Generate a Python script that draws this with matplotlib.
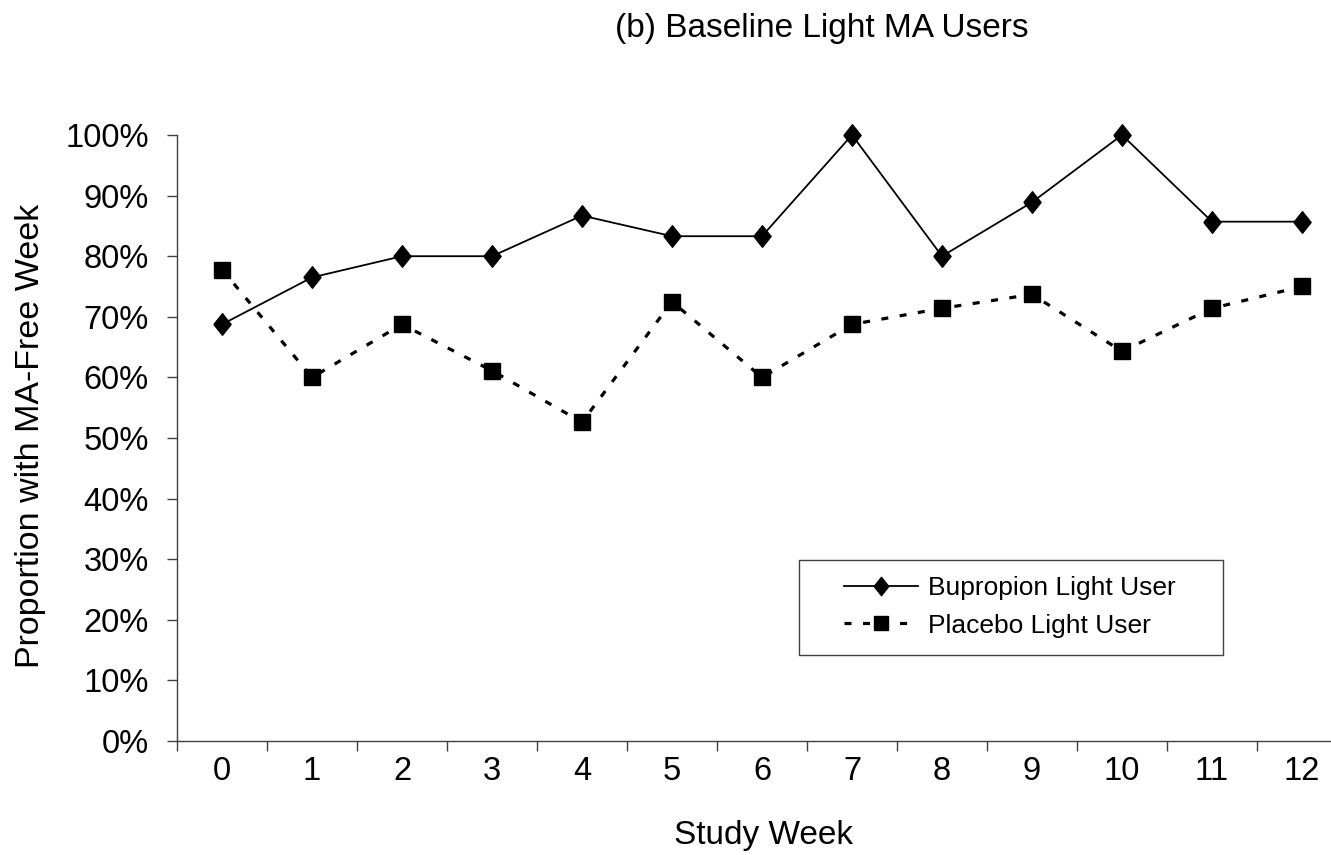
import matplotlib
matplotlib.use('Agg')
import matplotlib.pyplot as plt
from matplotlib.patches import Rectangle
from matplotlib.ticker import FuncFormatter, FixedLocator

plt.rcParams['font.family'] = ['Liberation Sans', 'DejaVu Sans']

# data (proportion with MA-free week, %)
weeks = ['0', '1', '2', '3', '4', '5', '6', '7', '8', '9', '10', '11', '12']
bupropion = [68.75, 76.5, 80.0, 80.0, 86.7, 83.3, 83.3, 100.0, 80.0, 88.9, 100.0, 85.7, 85.7]
placebo = [77.8, 60.0, 68.75, 61.1, 52.6, 72.5, 60.0, 68.75, 71.4, 73.7, 64.3, 71.4, 75.0]
y_ticks = [0, 10, 20, 30, 40, 50, 60, 70, 80, 90, 100]

W, H = 1331, 855
fig = plt.figure(figsize=(W / 100, H / 100), dpi=100)
ax = fig.add_axes([177 / W, 1 - 741 / H, 1170 / W, 606 / H])

x = list(range(len(weeks)))
diamond = [(-0.8, 0), (0, 1), (0.8, 0), (0, -1), (-0.8, 0)]

ax.plot(x, bupropion, color='black', lw=1.3, marker=diamond, ms=15.5,
        mfc='black', mec='black', label='Bupropion Light User', clip_on=False)
ax.plot(x, placebo, color='black', lw=2.3, dashes=(2.2, 3.6), marker='s', ms=11.5,
        mfc='black', mec='black', label='Placebo Light User', clip_on=False)

ax.set_xlim(-0.5, len(weeks) - 0.5)
ax.set_ylim(0, 100)

ax.set_xticks(x)
ax.set_xticklabels(weeks)
ax.xaxis.set_minor_locator(FixedLocator([i - 0.5 for i in range(len(weeks) + 1)]))
ax.tick_params(axis='x', which='major', length=0, pad=11, labelsize=23.5)
ax.tick_params(axis='x', which='minor', length=7.5, width=1, color='#404040', direction='out')

ax.set_yticks(y_ticks)
ax.yaxis.set_major_formatter(FuncFormatter(lambda v, p: '%d%%' % v))
ax.tick_params(axis='y', length=7.5, width=1, color='#404040', direction='out',
               pad=13, labelsize=23.5)

for s in ['top', 'right']:
    ax.spines[s].set_visible(False)
for s in ['left', 'bottom']:
    ax.spines[s].set_color('#404040')
    ax.spines[s].set_linewidth(1)

fig.text(31 / W, 1 - 436 / H, 'Proportion with MA-Free Week', rotation=90,
         ha='center', va='center', fontsize=24.5)
fig.text(763 / W, 1 - 835 / H, 'Study Week', ha='center', va='center', fontsize=24)
fig.text(822 / W, 1 - 29 / H, '(b) Baseline Light MA Users', ha='center', va='center',
         fontsize=24)

# legend box
fig.patches.append(Rectangle((799 / W, 1 - 655 / H), 424 / W, 95 / H,
                             transform=fig.transFigure, fill=False,
                             edgecolor='#404040', lw=1))
fig.legend(loc='center', bbox_to_anchor=(1010 / W, 1 - 607 / H), frameon=False,
           fontsize=19, handlelength=2.8, handletextpad=0.4, labelspacing=0.5,
           markerscale=0.85)

fig.savefig('out.png', dpi=100)
